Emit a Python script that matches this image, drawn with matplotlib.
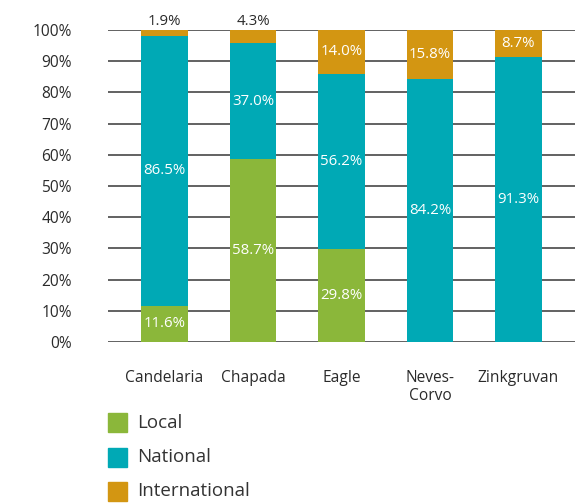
import matplotlib
matplotlib.use("Agg")
import matplotlib.pyplot as plt
from matplotlib.patches import Rectangle
import numpy as np

plt.rcParams['font.family'] = ['Open Sans', 'DejaVu Sans']

categories = ["Candelaria", "Chapada", "Eagle", "Neves-\nCorvo", "Zinkgruvan"]
local = [11.6, 58.7, 29.8, 0.0, 0.0]
national = [86.5, 37.0, 56.2, 84.2, 91.3]
international = [1.9, 4.3, 14.0, 15.8, 8.7]
series_names = ["Local", "National", "International"]
colors = ["#8BB73A", "#00A9B5", "#D39612"]
yticks = [0, 10, 20, 30, 40, 50, 60, 70, 80, 90, 100]

W, H = 575, 503
fig = plt.figure(figsize=(W / 100, H / 100), dpi=100)
ax = fig.add_axes([108 / W, (H - 342) / H, (575 - 108) / W, 312 / H])

x = np.arange(len(categories))
width = 0.53
bottoms = np.zeros(len(categories))
for vals, col in zip([local, national, international], colors):
    vals = np.array(vals)
    ax.bar(x, vals, width, bottom=bottoms, color=col, zorder=3, linewidth=0)
    for xi, v, b in zip(x, vals, bottoms):
        if v <= 0:
            continue
        label = f"{v:.1f}%"
        if v < 5:
            ax.text(xi, b + v + 0.4, label, ha='center', va='bottom',
                    color='#2a2a2a', fontsize=10.8, zorder=4)
        else:
            ax.text(xi, b + v / 2, label, ha='center', va='center',
                    color='white', fontsize=10.8, zorder=4)
    bottoms = bottoms + vals

ax.set_xlim(-0.64, 4.64)
ax.set_ylim(0, 100)
ax.set_yticks(yticks)
ax.set_yticklabels([f"{t}%" for t in yticks])
ax.set_xticks(x)
ax.set_xticklabels(categories)
for s in ax.spines.values():
    s.set_visible(False)
ax.tick_params(axis='y', length=0, pad=26, labelsize=11.2, labelcolor='#2a2a2a')
ax.tick_params(axis='x', length=0, pad=20, labelsize=11.2, labelcolor='#2a2a2a')
ax.yaxis.grid(True, color='#555555', linewidth=1.3, zorder=0)
ax.set_axisbelow(True)

# legend
rows_y = [422.5, 457.5, 491.5]
sq = 19
for name, col, cy in zip(series_names, colors, rows_y):
    fig.patches.append(Rectangle((108 / W, (H - cy - sq / 2) / H), sq / W, sq / H,
                                 transform=fig.transFigure, color=col, figure=fig))
    fig.text(137 / W, (H - cy) / H, name, ha='left', va='center',
             fontsize=13.5, color='#333333')

fig.savefig("out.png", dpi=100)
